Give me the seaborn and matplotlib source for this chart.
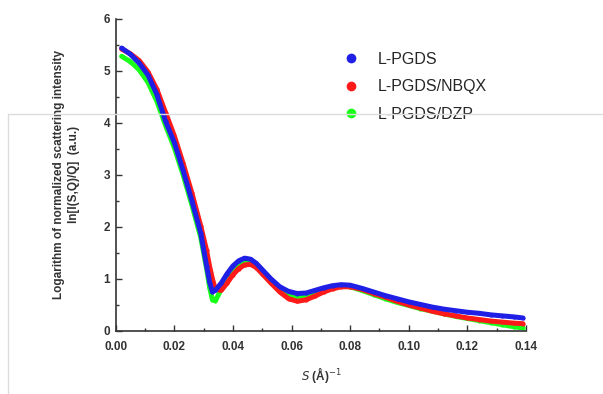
import numpy as np
import pandas as pd
import matplotlib
matplotlib.use('Agg')
import matplotlib.pyplot as plt
from matplotlib.lines import Line2D
from matplotlib.ticker import MultipleLocator
import seaborn as sns

# scattering vector S (1/A)
s_vals = [0.002, 0.005, 0.008, 0.011, 0.014, 0.017, 0.020, 0.023, 0.026, 0.029,
          0.031, 0.032, 0.033, 0.034, 0.036, 0.038, 0.040, 0.042, 0.044, 0.046,
          0.048, 0.050, 0.053, 0.056, 0.059, 0.062, 0.065, 0.068, 0.071, 0.074,
          0.077, 0.080, 0.084, 0.088, 0.092, 0.096, 0.100, 0.104, 0.108, 0.112,
          0.116, 0.120, 0.124, 0.128, 0.132, 0.136, 0.139]

pgds = [5.44, 5.32, 5.15, 4.92, 4.55, 4.03, 3.62, 3.08, 2.50, 1.88,
        1.25, 0.95, 0.75, 0.78, 0.92, 1.10, 1.25, 1.35, 1.40, 1.38,
        1.30, 1.18, 1.00, 0.85, 0.76, 0.72, 0.73, 0.78, 0.83, 0.87,
        0.89, 0.88, 0.82, 0.75, 0.68, 0.62, 0.56, 0.51, 0.46, 0.42,
        0.39, 0.36, 0.34, 0.31, 0.29, 0.27, 0.25]

pgds_nbqx = [5.42, 5.33, 5.20, 4.98, 4.65, 4.20, 3.75, 3.22, 2.65, 2.02,
             1.55, 1.25, 1.00, 0.80, 0.78, 0.92, 1.08, 1.20, 1.27, 1.28,
             1.22, 1.10, 0.92, 0.75, 0.62, 0.57, 0.60, 0.67, 0.75, 0.81,
             0.85, 0.85, 0.80, 0.72, 0.65, 0.57, 0.50, 0.44, 0.38, 0.33,
             0.29, 0.25, 0.22, 0.19, 0.17, 0.15, 0.14]

pgds_dzp = [5.28, 5.18, 5.02, 4.78, 4.42, 3.95, 3.52, 3.00, 2.42, 1.80,
            1.20, 0.85, 0.60, 0.58, 0.80, 1.00, 1.18, 1.30, 1.35, 1.33,
            1.25, 1.12, 0.95, 0.80, 0.70, 0.66, 0.68, 0.74, 0.80, 0.84,
            0.86, 0.85, 0.78, 0.70, 0.62, 0.55, 0.49, 0.43, 0.38, 0.33,
            0.28, 0.24, 0.20, 0.16, 0.12, 0.08, 0.06]

labels = ['L-PGDS', 'L-PGDS/NBQX', 'L-PGDS/DZP']
colors = {'L-PGDS': '#1f1fe6', 'L-PGDS/NBQX': '#ff1a1a', 'L-PGDS/DZP': '#1aff1a'}

df = pd.DataFrame({'S': s_vals * 3,
                   'I': pgds + pgds_nbqx + pgds_dzp,
                   'sample': np.repeat(labels, len(s_vals))})

sns.set_style('white')
plt.rcParams['font.family'] = ['Liberation Sans', 'DejaVu Sans']

fig = plt.figure(figsize=(6.03, 3.94), dpi=100)
ax = fig.add_axes([0.192, 0.160, 0.680, 0.792])

# draw green first, blue on top
for name in ['L-PGDS/DZP', 'L-PGDS/NBQX', 'L-PGDS']:
    sub = df[df['sample'] == name]
    sns.lineplot(data=sub, x='S', y='I', color=colors[name], lw=3.6,
                 marker='o', markersize=3, markeredgewidth=0,
                 solid_capstyle='round', ax=ax, legend=False)

ax.set_xlim(0, 0.14)
ax.set_ylim(0, 6)
ax.xaxis.set_major_locator(MultipleLocator(0.02))
ax.xaxis.set_minor_locator(MultipleLocator(0.01))
ax.yaxis.set_major_locator(MultipleLocator(1))
ax.yaxis.set_minor_locator(MultipleLocator(0.5))
ax.xaxis.set_major_formatter(matplotlib.ticker.FormatStrFormatter('%.2f'))
ax.tick_params(which='major', direction='in', length=4, width=1, color='#333333',
               labelsize=8.5, labelcolor='#333333', pad=4, bottom=True, left=True)
ax.tick_params(axis='x', which='major', pad=7)
ax.tick_params(which='minor', direction='in', length=2, width=1, color='#333333',
               bottom=True, left=True)
for lab in ax.get_xticklabels() + ax.get_yticklabels():
    lab.set_fontweight('bold')

for side in ['top', 'right']:
    ax.spines[side].set_visible(False)
for side in ['left', 'bottom']:
    ax.spines[side].set_color('#333333')
    ax.spines[side].set_linewidth(1.2)

ax.set_xlabel(r'$S$ (Å)$^{-1}$', fontsize=8.5, color='#333333', labelpad=9,
              fontweight='bold')
ax.set_ylabel('Logarithm of normalized scattering intensity\nln[I(S,Q)/Q]  (a.u.)',
              fontsize=8.5, color='#333333', linespacing=1.25, fontweight='bold')
ax.yaxis.set_label_coords(-0.088, 0.5)

handles = [Line2D([], [], ls='none', marker='o', markersize=7,
                  color=colors[n], markeredgewidth=0) for n in labels]
ax.legend(handles, labels, loc='upper left', bbox_to_anchor=(0.518, 0.94),
          frameon=False, fontsize=11.5, handletextpad=1.2, labelspacing=0.78,
          handlelength=1.0)

# faint screenshot frame lines
fig.add_artist(Line2D([8 / 603, 1], [1 - 114 / 394, 1 - 114 / 394],
                      transform=fig.transFigure, color='#dcdcdc', lw=1))
fig.add_artist(Line2D([8 / 603, 8 / 603], [0, 1 - 114 / 394],
                      transform=fig.transFigure, color='#dcdcdc', lw=1))

fig.savefig('out.png', dpi=100)
